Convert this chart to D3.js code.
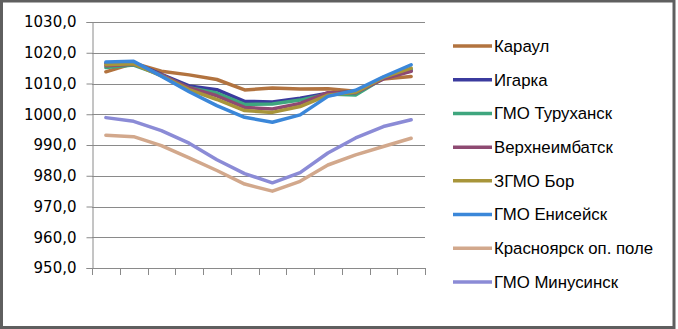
<!DOCTYPE html>
<html><head><meta charset="utf-8">
<script src="https://cdn.jsdelivr.net/npm/d3@7"></script>
<style>body{margin:0;background:#fff}svg{display:block}</style>
</head><body>
<svg id="c" width="678" height="329"></svg>
<script>
const months = ["1","2","3","4","5","6","7","8","9","10","11","12"];
const yTicks = [950,960,970,980,990,1000,1010,1020,1030];
const seriesNames = ["Караул","Игарка","ГМО Туруханск","Верхнеимбатск","ЗГМО Бор","ГМО Енисейск","Красноярск оп. поле","ГМО Минусинск"];
const seriesColors = ["#B2733F","#3B3B9E","#3FA67E","#8E4A72","#A8953A","#3B87D9","#D2A88C","#8B8BD6"];
const karaul      = [1013.8,1016.6,1014.0,1012.8,1011.3,1007.9,1008.5,1008.2,1008.3,1007.5,1011.5,1012.3];
const igarka      = [1016.6,1016.8,1013.0,1009.2,1008.0,1004.2,1004.0,1005.2,1006.8,1007.3,1011.8,1014.1];
const turukhansk  = [1015.2,1016.0,1012.7,1008.6,1006.9,1003.2,1003.3,1004.6,1006.6,1006.3,1011.7,1014.7];
const verkhneimb  = [1015.8,1016.3,1012.8,1008.6,1006.0,1002.2,1001.7,1003.5,1007.0,1007.0,1011.5,1014.0];
const bor         = [1016.1,1016.4,1012.5,1008.0,1004.8,1001.2,1000.6,1002.5,1006.2,1007.2,1012.0,1015.0];
const eniseisk    = [1017.0,1017.2,1012.4,1007.3,1002.8,999.0,997.4,999.8,1005.8,1007.8,1012.2,1016.1];
const krasnoyarsk = [993.2,992.7,989.8,985.8,981.7,977.3,975.0,978.2,983.5,986.8,989.5,992.2];
const minusinsk   = [998.9,997.7,994.7,990.6,985.2,980.7,977.7,981.0,987.4,992.3,996.0,998.2];
const seriesValues = [karaul,igarka,turukhansk,verkhneimb,bor,eniseisk,krasnoyarsk,minusinsk];

const svg = d3.select("#c");
svg.append("rect").attr("x",1.5).attr("y",1).attr("width",672.5).attr("height",326.5)
  .attr("fill","#fff").attr("stroke","#5f5f5f").attr("stroke-width",3);

const x = d3.scaleBand().domain(months).range([92,425]).paddingInner(0).paddingOuter(0);
const y = d3.scaleLinear().domain([950,1030]).range([268,22]);

// gridlines
svg.append("g").selectAll("line").data(yTicks.filter(d=>d>950)).join("line")
  .attr("x1",92).attr("x2",425)
  .attr("y1",d=>Math.round(y(d))+0.5).attr("y2",d=>Math.round(y(d))+0.5)
  .attr("stroke","#8a8a8a").attr("stroke-width",1);

// y axis
const yAxis = d3.axisLeft(y).tickValues(yTicks).tickSize(6).tickPadding(10)
  .tickFormat(d=>d3.format(".1f")(d).replace(".",","));
const gy = svg.append("g").attr("transform","translate(92.5,0)").call(yAxis);
gy.select(".domain").attr("stroke","#8a8a8a");
gy.selectAll(".tick line").attr("stroke","#8a8a8a");
gy.selectAll("text").attr("font-family","'DejaVu Sans'").attr("font-size",15).attr("fill","#000");

// x axis
const xEdges = months.map(m=>x(m)).concat([425]);
const gx = svg.append("g");
gx.append("line").attr("x1",92).attr("x2",425).attr("y1",268.5).attr("y2",268.5).attr("stroke","#8a8a8a");
gx.selectAll("line.t").data(xEdges).join("line").attr("class","t")
  .attr("x1",d=>Math.round(d)+0.5).attr("x2",d=>Math.round(d)+0.5)
  .attr("y1",268).attr("y2",275).attr("stroke","#8a8a8a");

// lines
const line = d3.line().x((d,i)=>x(months[i])+x.bandwidth()/2).y(d=>y(d));
svg.append("g").selectAll("path").data(seriesValues).join("path")
  .attr("d",d=>line(d)).attr("fill","none")
  .attr("stroke",(d,i)=>seriesColors[i]).attr("stroke-width",3.5)
  .attr("stroke-linejoin","round").attr("stroke-linecap","round");

// legend
const lg = svg.append("g");
const rowY = d3.scalePoint().domain(seriesNames).range([46,282]);
seriesNames.forEach((n,i)=>{
  const yy = rowY(n);
  lg.append("line").attr("x1",453).attr("x2",492).attr("y1",yy).attr("y2",yy)
    .attr("stroke",seriesColors[i]).attr("stroke-width",3.5);
  lg.append("text").attr("x",494).attr("y",yy).attr("dy","0.35em")
    .attr("font-family","'Liberation Sans'").attr("font-size",16.8).attr("fill","#000").text(n);
});
</script>
</body></html>
